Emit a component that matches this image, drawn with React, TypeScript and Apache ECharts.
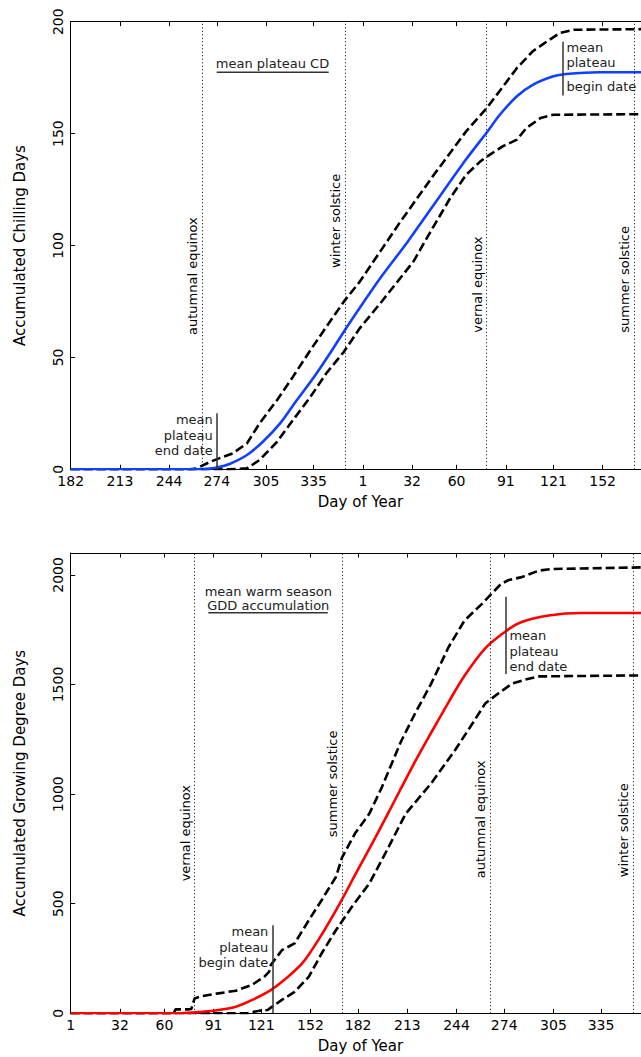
import React, { useEffect, useRef } from "react";
import * as echarts from "echarts";

const FONT = "'DejaVu Sans', Verdana, sans-serif";

// ---------- Top panel: accumulated chilling days (x = days since DOY 182) ----------
const cdTickDays = [182, 213, 244, 274, 305, 335, 1, 32, 60, 91, 121, 152];
const cdMeanX = [0, 60, 80, 86, 92, 100, 111, 121, 132, 142, 153, 163, 172, 184, 195, 212, 228, 249, 262, 270, 281, 291, 304, 312, 333, 365];
const cdMeanY = [0, 0, 0, 0.2, 0.8, 2.4, 6.4, 12.3, 20.6, 30.5, 41, 51.5, 61.5, 74.2, 85.5, 101.5, 117.5, 138.5, 150.5, 158.2, 166.7, 171.8, 175.6, 176.6, 177.4, 177.4];
const cdUpperX = [0, 75, 79, 88, 96, 102, 111, 119, 130, 140, 151, 161, 172, 182, 197, 207, 228, 249, 262, 270, 281, 291, 300, 308, 317, 365];
const cdUpperY = [0, 0, 0.3, 3.4, 5.6, 7.1, 11.6, 20.6, 31, 41.4, 53.3, 63.7, 74.9, 83.8, 99.5, 110, 130.9, 151, 161.4, 168.9, 179.3, 186.8, 191.2, 195, 196.4, 196.7];
const cdLowerX = [0, 100, 111, 119, 130, 140, 151, 161, 172, 182, 195, 216, 224, 239, 249, 258, 264, 272, 281, 287, 296, 304, 365];
const cdLowerY = [0, 0, 0.4, 4.2, 12.3, 22, 32.4, 42.9, 52.5, 63, 74.2, 93, 103, 121.2, 131.6, 137.6, 140.6, 144.3, 147.3, 152.5, 157, 158.4, 158.7];
const cdEventNames = ["autumnal equinox", "winter solstice", "vernal equinox", "summer solstice"];
const cdEventDays = [265, 355, 79, 172];
const cdEventTextStart = [60, 90, 61, 61];
const cdEndDateDay = 274; // mean plateau end date
const cdEndDateTop = 25;
const cdBeginDateDay = 127; // mean plateau begin date
const cdBeginDateRange = [167, 191];

// ---------- Bottom panel: accumulated growing degree days (x = DOY) ----------
const gddTickDays = [1, 32, 60, 91, 121, 152, 182, 213, 244, 274, 305, 335];
const gddMeanX = [1, 70, 84, 94, 105, 115, 127, 136, 147, 157, 170, 180, 193, 208, 218, 228, 239, 249, 262, 275, 285, 302, 323, 366];
const gddMeanY = [0, 0, 7, 15, 30, 60, 106, 155, 230, 335, 495, 630, 804, 1012, 1150, 1280, 1420, 1540, 1665, 1743, 1785, 1815, 1826, 1826];
const gddUpperX = [1, 66, 67, 75, 77, 79, 84, 94, 105, 115, 123, 126, 127, 134, 142, 151, 159, 168, 172, 180, 189, 197, 209, 218, 228, 239, 249, 260, 266, 272, 277, 285, 296, 304, 366];
const gddUpperY = [0, 0, 18, 18, 20, 68, 79, 91, 103, 129, 167, 190, 220, 288, 319, 425, 516, 622, 713, 820, 910, 1032, 1240, 1370, 1504, 1671, 1792, 1868, 1914, 1959, 1977, 1990, 2020, 2027, 2035];
const gddLowerX = [1, 112, 115, 120, 125, 127, 134, 142, 151, 159, 168, 178, 189, 199, 212, 228, 243, 254, 262, 270, 279, 287, 296, 366];
const gddLowerY = [0, 0, 5, 12, 15, 26, 61, 98, 167, 273, 379, 485, 592, 728, 911, 1049, 1200, 1322, 1413, 1458, 1504, 1522, 1537, 1542];
const gddEventNames = ["vernal equinox", "summer solstice", "autumnal equinox", "winter solstice"];
const gddEventDays = [79, 172, 265, 355];
const gddEventTextStart = [602, 803, 616, 621];
const gddBeginDateDay = 128;
const gddBeginDateTop = 402;
const gddEndDateDay = 275;
const gddEndDateRange = [1548, 1900];

const doyToIdx = (d: number) => (d >= 182 ? d - 182 : d + 183);
const zip = (xs: number[], ys: number[]) => xs.map((x, i) => [x, ys[i]]);

const cdTickIdx = cdTickDays.map(doyToIdx);

const tickLabelStyle = { color: "#000", fontSize: 14, fontFamily: FONT };
const nameStyle = { color: "#000", fontSize: 15, fontFamily: FONT };
const axisLineStyle = { show: true, onZero: false, lineStyle: { color: "#000", width: 1 } };
const dotted = { color: "#000", width: 1, type: [1, 2.5] as any };
const annoLine = { color: "#333", width: 1.5, type: "solid" as any };

function xAxes(grid: number, ticks: number[], labels: number[], min: number, max: number) {
  return [
    {
      gridIndex: grid, type: "value", min, max, position: "bottom",
      axisLine: axisLineStyle,
      axisTick: { show: true, inside: true, length: 4.5, customValues: ticks, lineStyle: { color: "#000" } },
      axisLabel: {
        ...tickLabelStyle, margin: 5, customValues: ticks,
        formatter: (v: number) => { const k = ticks.indexOf(v); return k >= 0 ? String(labels[k]) : ""; },
      },
      splitLine: { show: false },
      name: "Day of Year", nameLocation: "middle", nameGap: 25, nameTextStyle: nameStyle,
    },
    {
      gridIndex: grid, type: "value", min, max, position: "top",
      axisLine: axisLineStyle,
      axisTick: { show: true, inside: true, length: 4.5, customValues: ticks, lineStyle: { color: "#000" } },
      axisLabel: { show: false },
      splitLine: { show: false },
    },
  ];
}

export default function App() {
  const ref = useRef<HTMLDivElement>(null);
  useEffect(() => {
    if (!ref.current) return;
    const chart = echarts.init(ref.current, null, { renderer: "svg" });
    const dashed = { color: "#000", width: 2.6, type: [9, 4] as any };
    const option: any = {
      animation: false,
      backgroundColor: "#fff",
      textStyle: { fontFamily: FONT },
      grid: [
        { left: 70.7, top: 21.7, width: 579.6, height: 447.6 },
        { left: 70.7, top: 553, width: 579.6, height: 460.3 },
      ],
      xAxis: [
        ...xAxes(0, cdTickIdx, cdTickDays, 0, 365),
        ...xAxes(1, gddTickDays, gddTickDays, 1, 366),
      ],
      yAxis: [
        {
          gridIndex: 0, type: "value", min: 0, max: 200, interval: 50,
          axisLine: axisLineStyle,
          axisTick: { show: true, inside: true, length: 4.5, lineStyle: { color: "#000" } },
          axisLabel: { ...tickLabelStyle, rotate: 90, margin: 6 },
          splitLine: { show: false },
          name: "Accumulated Chilling Days", nameLocation: "middle", nameGap: 43, nameTextStyle: nameStyle,
        },
        {
          gridIndex: 1, type: "value", min: 0, max: 2100, interval: 500,
          axisLine: axisLineStyle,
          axisTick: { show: true, inside: true, length: 4.5, lineStyle: { color: "#000" } },
          axisLabel: { ...tickLabelStyle, rotate: 90, margin: 6, formatter: (v: number) => (v % 500 === 0 ? String(v) : "") },
          splitLine: { show: false },
          name: "Accumulated Growing Degree Days", nameLocation: "middle", nameGap: 43, nameTextStyle: nameStyle,
        },
      ],
      series: [
        {
          name: "CD upper", type: "line", xAxisIndex: 0, yAxisIndex: 0, data: zip(cdUpperX, cdUpperY),
          symbol: "none", lineStyle: dashed, z: 3,
          markLine: {
            symbol: "none", silent: true, label: { show: false }, lineStyle: dotted,
            data: [
              ...cdEventDays.map((d) => ({ xAxis: doyToIdx(d) })),
              [{ coord: [doyToIdx(cdEndDateDay), 0], lineStyle: annoLine }, { coord: [doyToIdx(cdEndDateDay), cdEndDateTop] }],
              [{ coord: [doyToIdx(cdBeginDateDay), cdBeginDateRange[0]], lineStyle: annoLine }, { coord: [doyToIdx(cdBeginDateDay), cdBeginDateRange[1]] }],
            ],
          },
        },
        { name: "CD lower", type: "line", xAxisIndex: 0, yAxisIndex: 0, data: zip(cdLowerX, cdLowerY), symbol: "none", lineStyle: dashed, z: 3 },
        { name: "CD mean", type: "line", xAxisIndex: 0, yAxisIndex: 0, data: zip(cdMeanX, cdMeanY), symbol: "none", smooth: 0.3, lineStyle: { color: "#0f40ff", width: 2.6 }, z: 4 },
        {
          name: "GDD upper", type: "line", xAxisIndex: 2, yAxisIndex: 1, data: zip(gddUpperX, gddUpperY),
          symbol: "none", lineStyle: dashed, z: 3,
          markLine: {
            symbol: "none", silent: true, label: { show: false }, lineStyle: dotted,
            data: [
              ...gddEventDays.map((d) => ({ xAxis: d })),
              [{ coord: [gddBeginDateDay, 0], lineStyle: annoLine }, { coord: [gddBeginDateDay, gddBeginDateTop] }],
              [{ coord: [gddEndDateDay, gddEndDateRange[0]], lineStyle: annoLine }, { coord: [gddEndDateDay, gddEndDateRange[1]] }],
            ],
          },
        },
        { name: "GDD lower", type: "line", xAxisIndex: 2, yAxisIndex: 1, data: zip(gddLowerX, gddLowerY), symbol: "none", lineStyle: dashed, z: 3 },
        { name: "GDD mean", type: "line", xAxisIndex: 2, yAxisIndex: 1, data: zip(gddMeanX, gddMeanY), symbol: "none", smooth: 0.3, lineStyle: { color: "#ff0000", width: 2.6 }, z: 4 },
      ],
    };
    chart.setOption(option);

    const px = (axis: number, v: number) => chart.convertToPixel({ xAxisIndex: axis } as any, v) as number;
    const py = (axis: number, v: number) => chart.convertToPixel({ yAxisIndex: axis } as any, v) as number;
    const annoFont = `13px ${FONT}`;
    const txt = (text: string, x: number, y: number, align: string, fill = "#222") => ({
      type: "text", x, y, silent: true,
      style: { text, fill, font: annoFont, align, verticalAlign: "middle" },
    });
    const vtxt = (text: string, x: number, y: number) => ({
      type: "text", x: x - 3, y, rotation: Math.PI / 2, silent: true,
      style: { text, fill: "#000", font: annoFont, align: "left", verticalAlign: "bottom" },
    });
    const uline = (x1: number, x2: number, y: number) => ({
      type: "line", silent: true, shape: { x1, y1: y, x2, y2: y }, style: { stroke: "#333", lineWidth: 1.5 },
    });

    const g: any[] = [];
    cdEventDays.forEach((d, i) => g.push(vtxt(cdEventNames[i], px(0, doyToIdx(d)), py(0, cdEventTextStart[i]))));
    gddEventDays.forEach((d, i) => g.push(vtxt(gddEventNames[i], px(2, d), py(1, gddEventTextStart[i]))));

    // top panel annotations
    g.push(txt("mean plateau CD", 272.5, 63.3, "center"));
    g.push(uline(216.7, 328.7, 72.3));
    const cdEndX = px(0, doyToIdx(cdEndDateDay));
    g.push(txt("mean", cdEndX - 4, 419.3, "right"));
    g.push(txt("plateau", cdEndX - 4, 435, "right"));
    g.push(txt("end date", cdEndX - 4, 450.7, "right"));
    const cdBeginX = px(0, doyToIdx(cdBeginDateDay));
    g.push(txt("mean", cdBeginX + 3.5, 47.7, "left"));
    g.push(txt("plateau", cdBeginX + 3.5, 62.7, "left"));
    g.push(txt("begin date", cdBeginX + 3.5, 86, "left"));

    // bottom panel annotations
    g.push(txt("mean warm season", 268.3, 591.7, "center"));
    g.push(txt("GDD accumulation", 268.3, 605.7, "center"));
    g.push(uline(208.3, 327.7, 612.7));
    const gEndX = px(2, gddEndDateDay);
    g.push(txt("mean", gEndX + 3.6, 635, "left"));
    g.push(txt("plateau", gEndX + 3.6, 651, "left"));
    g.push(txt("end date", gEndX + 3.6, 666.7, "left"));
    const gBeginX = px(2, gddBeginDateDay);
    g.push(txt("mean", gBeginX - 4, 931.7, "right"));
    g.push(txt("plateau", gBeginX - 4, 947.3, "right"));
    g.push(txt("begin date", gBeginX - 4, 962.7, "right"));

    chart.setOption({ graphic: g });
    return () => chart.dispose();
  }, []);

  return (
    <div style={{ position: "fixed", left: 0, top: 0, width: 641, height: 1057, overflow: "hidden", background: "#fff" }}>
      <div ref={ref} style={{ width: 660, height: 1057 }} />
    </div>
  );
}
